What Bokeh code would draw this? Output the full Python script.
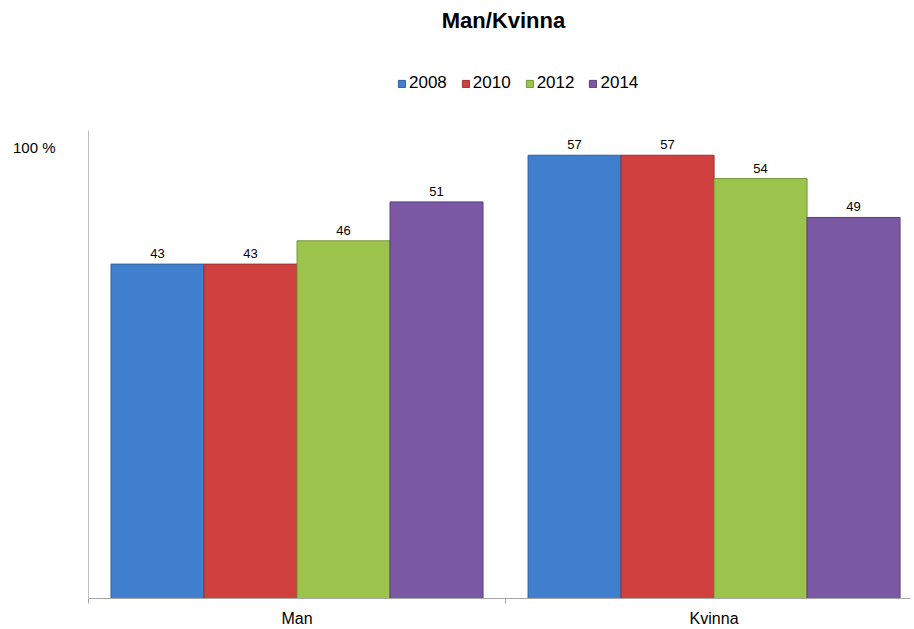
from bokeh.plotting import figure
from bokeh.models import ColumnDataSource, FixedTicker, Legend, LegendItem, Range1d, LabelSet, Label
from bokeh.core.properties import value
from bokeh.embed import file_html
from bokeh.resources import INLINE

title_text = "Man/Kvinna"
categories = ["Man", "Kvinna"]
years = ["2008", "2010", "2012", "2014"]
values_2008 = [43, 57]
values_2010 = [43, 57]
values_2012 = [46, 54]
values_2014 = [51, 49]
series = [values_2008, values_2010, values_2012, values_2014]
colors = ["#3f7fcd", "#cf403e", "#9cc44c", "#7a58a4"]
edge_colors = ["#2d5f9e", "#9e2f2d", "#76963a", "#5a3f7c"]
y_tick_value = 58
y_tick_label = "100 %"
y_axis_top = 60.2

FONT = "Liberation Sans"
bar_w = 0.223
offsets = [-1.5 * bar_w, -0.5 * bar_w, 0.5 * bar_w, 1.5 * bar_w]

p = figure(width=912, height=632, output_backend="svg", toolbar_location=None,
           x_range=Range1d(0, 1.971), y_range=Range1d(0, 76.9),
           min_border_left=88, min_border_right=2, min_border_top=0, min_border_bottom=34)
p.outline_line_color = None
p.grid.visible = False
p.background_fill_color = "white"
p.border_fill_color = "white"

title = Label(x=415, y=578, x_units="screen", y_units="screen", text=title_text,
              text_align="center", text_baseline="middle", text_font=FONT,
              text_font_size="22px", text_font_style="bold", text_color="#000000")
p.add_layout(title)

items = []
for i, (yr, vals) in enumerate(zip(years, series)):
    xs = [ci + 0.5 + offsets[i] for ci in range(len(categories))]
    src = ColumnDataSource(dict(x=xs, top=vals, lab=[str(v) for v in vals]))
    r = p.vbar(x="x", top="top", bottom=0, width=bar_w, source=src,
               fill_color=colors[i], line_color=edge_colors[i], line_width=1)
    lbl = LabelSet(x="x", y="top", text="lab", source=src, text_align="center",
                   text_baseline="bottom", y_offset=6, text_font=value(FONT),
                   text_font_size=value("13px"), text_color=value("#000000"))
    p.add_layout(lbl)
    items.append(LegendItem(label=yr, renderers=[r]))

legend = Legend(items=items, orientation="horizontal", location=(309, 505),
                glyph_width=9, glyph_height=9, label_standoff=3, spacing=14,
                label_text_font=FONT, label_text_font_size="17px",
                label_text_color="#000000",
                border_line_color=None, background_fill_alpha=0, padding=0, margin=0)
p.add_layout(legend, "center")

# x axis
xa = p.xaxis[0]
xa.ticker = FixedTicker(ticks=[ci + 0.5 for ci in range(len(categories))],
                        minor_ticks=[float(ci) for ci in range(len(categories) + 1)])
xa.major_label_overrides = {ci + 0.5: c for ci, c in enumerate(categories)}
xa.major_tick_line_color = None
xa.major_tick_out = 0
xa.major_tick_in = 0
xa.minor_tick_in = 0
xa.minor_tick_out = 5
xa.minor_tick_line_color = "#a6a6a6"
xa.axis_line_color = "#a6a6a6"
xa.axis_label_standoff = 0
xa.major_label_text_font = FONT
xa.major_label_text_font_size = "16px"
xa.major_label_text_color = "#000000"
xa.major_label_standoff = 6

ya = p.yaxis[0]
ya.bounds = (0, y_axis_top)
ya.ticker = FixedTicker(ticks=[y_tick_value])
ya.major_label_overrides = {y_tick_value: y_tick_label}
ya.major_tick_line_color = None
ya.major_tick_out = 0
ya.major_tick_in = 0
ya.minor_tick_line_color = None
ya.axis_line_color = "#bfbfbf"
ya.major_label_text_font = FONT
ya.major_label_text_font_size = "15px"
ya.major_label_text_color = "#000000"
ya.major_label_standoff = 33

open("out.html", "w").write(file_html(p, INLINE))
